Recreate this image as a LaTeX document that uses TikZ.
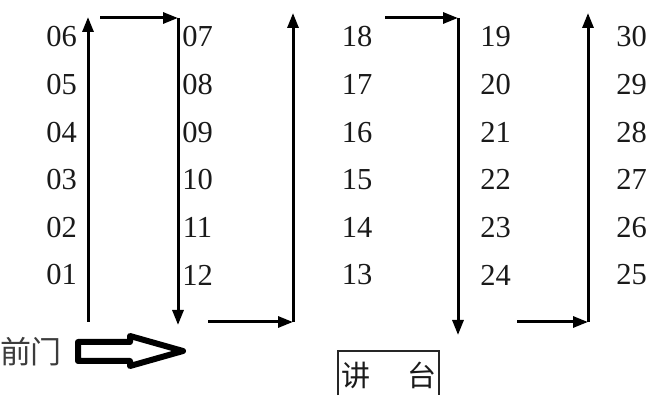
\documentclass[tikz,border=0pt]{standalone}
\usepackage{fontspec}
\setmainfont{Liberation Serif}
\newfontfamily\cjk{Noto Sans CJK SC}
\usetikzlibrary{arrows.meta}
\definecolor{ink}{HTML}{1A1A1A}
\begin{document}
\begin{tikzpicture}[x=1pt,y=-1pt,
  num/.style={font=\fontsize{30.5}{30.5}\selectfont, text=ink, inner sep=0pt, anchor=center},
  cjklabel/.style={font=\cjk\fontsize{29}{29}\selectfont, text=ink, inner sep=0pt, anchor=center},
  doorlabel/.style={font=\cjk\fontsize{31}{31}\selectfont, text=ink!85, inner sep=0pt, anchor=center},
  flow/.style={line width=3pt, draw=black, -{Triangle[length=15pt,width=11pt]}},
  hollow/.style={line width=6pt, draw=black, line join=round, fill=white},
  podium/.style={line width=1.5pt, draw=black!85},
]
\useasboundingbox[fill=white] (0,0) rectangle (670,406);

% seat numbers
\foreach \n [count=\i from 0] in {06,05,04,03,02,01}
  \node[num] (s\n) at (61.5, 37+47.6*\i) {\n};
\foreach \n [count=\i from 0] in {07,08,09,10,11,12}
  \node[num] (s\n) at (197.5, 37+47.6*\i) {\n};
\foreach \n [count=\i from 0] in {18,17,16,15,14,13}
  \node[num] (s\n) at (357, 37+47.6*\i) {\n};
\foreach \n [count=\i from 0] in {19,20,21,22,23,24}
  \node[num] (s\n) at (495.5, 37+47.6*\i) {\n};
\foreach \n [count=\i from 0] in {30,29,28,27,26,25}
  \node[num] (s\n) at (631.5, 37+47.6*\i) {\n};

% route coordinates
\coordinate (a0) at (88,322);
\coordinate (a1) at (88,17);
\coordinate (b0) at (100,18);
\coordinate (b1) at (178,18);
\coordinate (c1) at (178,325);
\coordinate (d0) at (208,322);
\coordinate (d1) at (293,322);
\coordinate (e1) at (293,13);
\coordinate (f0) at (385,18);
\coordinate (f1) at (458,18);
\coordinate (g1) at (458,335);
\coordinate (h0) at (517,322);
\coordinate (h1) at (588,322);
\coordinate (i1) at (588,13);

\draw[flow] (a0) -- (a1);
\draw[flow] (b0) -- (b1);
\draw[flow] (b1) -- (c1);
\draw[flow] (d0) -- (d1);
\draw[flow] (d1) -- (e1);
\draw[flow] (f0) -- (f1);
\draw[flow] (f1) -- (g1);
\draw[flow] (h0) -- (h1);
\draw[flow] (h1) -- (i1);

% front door
\node[doorlabel] (door) at (31,352) {前门};
\draw[hollow] (78,342) -- (130,342) -- (130,336) -- (183,351) -- (130,366) -- (130,361) -- (78,361) -- cycle;

% podium
\draw[podium] (338,395) -- (338,351) -- (439,351) -- (439,395);
\node[cjklabel] (pod) at (389,375) {讲\hspace{37pt}台};
\end{tikzpicture}
\end{document}
